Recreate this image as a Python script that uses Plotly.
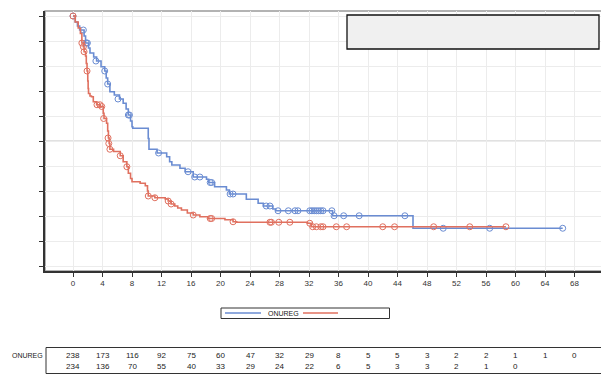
import plotly.graph_objects as go

# ---------------- data ----------------
x_ticks = [0, 4, 8, 12, 16, 20, 24, 28, 32, 36, 40, 44, 48, 52, 56, 60, 64, 68]

# ONUREG arm (blue) step curve: event times and survival after each step
onureg_t = [0, 0.3, 0.6, 0.9, 1.5, 1.7, 2.1, 2.3, 2.8, 3.2, 3.8, 4.3, 4.5, 4.7, 5.0,
            5.6, 6.3, 6.8, 7.2, 7.5, 7.8, 8.0, 8.1, 10.2, 10.3, 11.4, 12.7, 13.1, 13.4,
            14.5, 15.2, 16.3, 18.1, 18.4, 19.2, 20.8, 21.2, 23.5, 25.1, 25.8, 27.1, 27.5,
            35.2, 46.1, 66.4]
onureg_s = [1.0, 0.976, 0.96, 0.944, 0.92, 0.892, 0.872, 0.852, 0.836, 0.82, 0.797, 0.78,
            0.752, 0.728, 0.697, 0.684, 0.668, 0.651, 0.628, 0.604, 0.58, 0.557, 0.551,
            0.51, 0.467, 0.452, 0.437, 0.417, 0.404, 0.391, 0.377, 0.356, 0.347, 0.334,
            0.317, 0.304, 0.288, 0.267, 0.251, 0.24, 0.228, 0.221, 0.201, 0.151, 0.151]
onureg_cens_t = [0.0, 1.4, 1.8, 1.95, 3.1, 4.3, 4.7, 6.1, 7.5, 7.65, 11.6, 15.6, 16.5, 17.2,
                 18.6, 18.8, 21.3, 21.7, 26.2, 26.7, 27.8, 29.2, 30.1, 30.5, 32.1, 32.4,
                 32.7, 33.0, 33.3, 33.6, 33.9, 35.1, 35.4, 36.7, 38.8, 45.0, 50.2, 56.5, 66.4]
onureg_cens_s = [1.0, 0.944, 0.892, 0.892, 0.82, 0.78, 0.728, 0.668, 0.604, 0.604, 0.452,
                 0.377, 0.356, 0.356, 0.334, 0.334, 0.288, 0.288, 0.24, 0.24, 0.221, 0.221,
                 0.221, 0.221, 0.221, 0.221, 0.221, 0.221, 0.221, 0.221, 0.221, 0.221, 0.201,
                 0.201, 0.201, 0.201, 0.151, 0.151, 0.151]

# Comparator arm (red)
comp_t = [0, 0.3, 0.7, 1.0, 1.2, 1.4, 1.5, 1.7, 1.8, 1.9, 2.0, 2.05, 2.1, 2.3, 2.5, 2.75,
          3.2, 3.7, 4.1, 4.2, 4.55, 4.7, 4.8, 4.9, 5.0, 5.5, 6.4, 6.8, 7.3, 7.5, 7.8, 8.0,
          9.1, 9.8, 10.1, 10.2, 11.1, 12.5, 12.9, 13.3, 13.8, 14.2, 14.7, 15.5, 16.3,
          17.2, 18.3, 20.6, 21.7, 22.2, 31.8, 32.3, 58.7]
comp_s = [1.0, 0.976, 0.952, 0.93, 0.892, 0.877, 0.857, 0.84, 0.81, 0.78, 0.74, 0.71, 0.69,
          0.68, 0.677, 0.657, 0.645, 0.638, 0.611, 0.59, 0.571, 0.54, 0.512, 0.49, 0.467,
          0.458, 0.441, 0.417, 0.397, 0.371, 0.35, 0.337, 0.331, 0.321, 0.30, 0.28, 0.273,
          0.268, 0.26, 0.248, 0.24, 0.232, 0.224, 0.212, 0.204, 0.197, 0.19, 0.185, 0.177,
          0.175, 0.171, 0.157, 0.157]
comp_cens_t = [0.0, 1.2, 1.4, 1.5, 1.9, 3.25, 3.65, 3.9, 4.15, 4.75, 4.85, 5.0, 6.4, 7.3,
               10.2, 11.1, 12.9, 13.3, 16.3, 18.6, 18.8, 21.7, 26.7, 26.9, 27.9, 29.4, 32.1,
               32.5, 33.0, 33.6, 33.9, 35.7, 37.1, 42.0, 43.6, 48.9, 53.8, 58.7]
comp_cens_s = [1.0, 0.892, 0.877, 0.857, 0.78, 0.645, 0.645, 0.638, 0.59, 0.512, 0.49, 0.467,
               0.441, 0.397, 0.28, 0.273, 0.26, 0.248, 0.204, 0.19, 0.19, 0.177, 0.175,
               0.175, 0.175, 0.175, 0.171, 0.157, 0.157, 0.157, 0.157, 0.157, 0.157, 0.157,
               0.157, 0.157, 0.157, 0.157]

risk_onureg = [238, 173, 116, 92, 75, 60, 47, 32, 29, 8, 5, 5, 3, 2, 2, 1, 1, 0]
risk_comp = [234, 136, 70, 55, 40, 33, 29, 24, 22, 6, 5, 3, 3, 2, 1, 0]

arm_names = ["ONUREG", ""]

# ---------------- style ----------------
BLUE = "#6a8cd2"
RED = "#e0705f"
FONT = "Liberation Sans Narrow, Liberation Sans, Arial, sans-serif"

fig = go.Figure()
fig.add_trace(go.Scatter(x=onureg_t, y=onureg_s, mode="lines", line_shape="hv",
                         line=dict(color=BLUE, width=1.6), name=arm_names[0]))
fig.add_trace(go.Scatter(x=onureg_cens_t, y=onureg_cens_s, mode="markers",
                         marker=dict(symbol="circle-open", size=6, color=BLUE,
                                     line=dict(width=1, color=BLUE)),
                         showlegend=False))
fig.add_trace(go.Scatter(x=comp_t, y=comp_s, mode="lines", line_shape="hv",
                         line=dict(color=RED, width=1.6), name=" "))
fig.add_trace(go.Scatter(x=comp_cens_t, y=comp_cens_s, mode="markers",
                         marker=dict(symbol="circle-open", size=6, color=RED,
                                     line=dict(width=1, color=RED)),
                         showlegend=False))

# page has an 8px body margin: figure is sized so the plot lands where the reference has it
OFF = 8
W, H = 609 - OFF, 382 - OFF
L, R, T, B = 45 - OFF, 5, 11 - OFF, 111
PLOT_L, PLOT_R, PLOT_T, PLOT_B = 45, 604, 11, 271  # reference pixel frame


def py(p):  # reference pixel row -> paper y
    return (PLOT_B - p) / (PLOT_B - PLOT_T)


def px_(x):  # reference pixel column -> paper x
    return (x - PLOT_L) / (PLOT_R - PLOT_L)


shapes = []
annotations = []

# plot frame (top/right lighter)
shapes.append(dict(type="rect", xref="paper", yref="paper", x0=0, x1=1, y0=0, y1=1,
                   line=dict(color="#9a9a9a", width=1.5), layer="below"))
# reference line at 0.5
shapes.append(dict(type="line", xref="paper", yref="y", x0=0, x1=1, y0=0.5, y1=0.5,
                   line=dict(color="#c4c4c4", width=1.2), layer="below"))
# inset box top right
shapes.append(dict(type="rect", xref="paper", yref="paper",
                   x0=px_(347), x1=px_(599), y0=py(15), y1=py(49),
                   fillcolor="#f0f0f0", line=dict(color="#111111", width=1.3), layer="above"))

# legend (drawn manually)
shapes.append(dict(type="rect", xref="paper", yref="paper",
                   x0=px_(221), x1=px_(389.5), y0=py(308), y1=py(318.5),
                   line=dict(color="#333333", width=1), fillcolor="white"))
shapes.append(dict(type="line", xref="paper", yref="paper", x0=px_(225), x1=px_(261),
                   y0=py(313), y1=py(313), line=dict(color=BLUE, width=1.6)))
shapes.append(dict(type="line", xref="paper", yref="paper", x0=px_(303), x1=px_(338),
                   y0=py(313), y1=py(313), line=dict(color=RED, width=1.6)))
annotations.append(dict(xref="paper", yref="paper", x=px_(266), y=py(313.5),
                        text=arm_names[0], showarrow=False, xanchor="left", yanchor="middle",
                        font=dict(size=7, color="#222222", family=FONT)))

# at-risk table
shapes.append(dict(type="rect", xref="paper", yref="paper",
                   x0=px_(46), x1=px_(605), y0=py(347.5), y1=py(373.5),
                   line=dict(color="#333333", width=1)))
annotations.append(dict(xref="paper", yref="paper", x=px_(10), y=py(355),
                        text=arm_names[0], showarrow=False, xanchor="left", yanchor="middle",
                        font=dict(size=7, color="#222222", family=FONT)))
for xv, n in zip(x_ticks, risk_onureg):
    annotations.append(dict(xref="x", yref="paper", x=xv, y=py(355), text=str(n),
                            showarrow=False, xanchor="center", yanchor="middle",
                            font=dict(size=8, color="#222222", family=FONT)))
for xv, n in zip(x_ticks, risk_comp):
    annotations.append(dict(xref="x", yref="paper", x=xv, y=py(366), text=str(n),
                            showarrow=False, xanchor="center", yanchor="middle",
                            font=dict(size=8, color="#222222", family=FONT)))

fig.update_layout(
    width=W, height=H,
    margin=dict(l=L, r=R, t=T, b=B, pad=0),
    paper_bgcolor="white", plot_bgcolor="white",
    showlegend=False,
    shapes=shapes, annotations=annotations,
    font=dict(family=FONT, size=8, color="#222222"),
    xaxis=dict(range=[-3.8, 72], tickvals=x_ticks, ticktext=[str(v) for v in x_ticks],
               ticks="outside", ticklen=4, tickwidth=1, tickcolor="#333333",
               showgrid=True, gridcolor="#ececec", gridwidth=1,
               showline=True, linecolor="#333333", linewidth=1.5,
               zeroline=False, tickfont=dict(size=8, color="#333333", family=FONT)),
    yaxis=dict(range=[-0.02, 1.02], tickvals=[i / 10 for i in range(11)],
               showticklabels=False,
               ticks="outside", ticklen=4, tickwidth=1, tickcolor="#333333",
               showgrid=True, gridcolor="#ececec", gridwidth=1,
               showline=True, linecolor="#333333", linewidth=1.5, zeroline=False),
)

fig.write_html("out.html")
